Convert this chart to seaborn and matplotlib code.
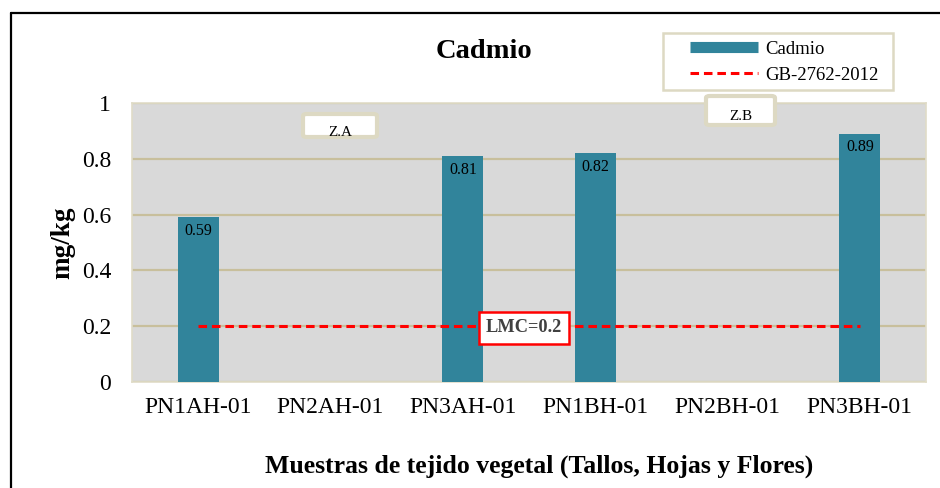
import matplotlib
matplotlib.use("Agg")
import matplotlib.pyplot as plt
import seaborn as sns
import numpy as np
import pandas as pd
from matplotlib.lines import Line2D
from matplotlib.patches import Rectangle, FancyBboxPatch

categories = ["PN1AH-01", "PN2AH-01", "PN3AH-01", "PN1BH-01", "PN2BH-01", "PN3BH-01"]
cadmio = [0.59, np.nan, 0.81, 0.82, np.nan, 0.89]
limite = [0.2, 0.2, 0.2, 0.2, 0.2, 0.2]
yticks = [0, 0.2, 0.4, 0.6, 0.8, 1.0]
ytick_labels = ["0", "0.2", "0.4", "0.6", "0.8", "1"]
legend_labels = ["Cadmio", "GB-2762-2012"]

TEAL = "#31849B"
TAN = "#C8BF9C"
RED = "#FF0000"
SERIF = ["Liberation Serif", "DejaVu Serif"]

sns.set_style("white")
plt.rcParams["font.family"] = SERIF
plt.rcParams["text.color"] = "black"
plt.rcParams["axes.labelcolor"] = "black"
plt.rcParams["xtick.color"] = "black"
plt.rcParams["ytick.color"] = "black"

W, H = 940, 488
fig = plt.figure(figsize=(W / 100, H / 100), dpi=100)
ax = fig.add_axes([132 / W, 1 - 382 / H, (926 - 132) / W, (382 - 103) / H])

df = pd.DataFrame({"cat": categories, "val": cadmio})
sns.barplot(data=df, x="cat", y="val", color=TEAL, width=0.31, saturation=1,
            ax=ax, zorder=3, edgecolor="none")

ax.plot(range(len(categories)), limite, color=RED, lw=2.2,
        dashes=(2.8, 1.6), zorder=4)

ax.set_facecolor("#D9D9D9")
ax.set_ylim(0, 1)
ax.set_xlim(-0.5, len(categories) - 0.5)
ax.set_yticks(yticks)
ax.set_yticklabels(ytick_labels)
ax.grid(axis="y", color=TAN, lw=1.6, zorder=1)
ax.set_axisbelow(True)
for s in ax.spines.values():
    s.set_visible(True)
    s.set_color("#E0DCC8")
    s.set_linewidth(1.2)
ax.tick_params(axis="both", length=0, labelsize=17, labelcolor="black")
ax.tick_params(axis="y", pad=15)
ax.tick_params(axis="x", pad=11)
ax.set_xlabel("")
ax.set_ylabel("mg/kg", fontsize=19.5, fontweight="bold", color="black")
ax.yaxis.set_label_coords(-0.072, 0.5)

# value labels
for i, v in enumerate(cadmio):
    if not np.isnan(v):
        ax.annotate(f"{v:.2f}", (i, v), xytext=(0, -4), textcoords="offset points",
                    ha="center", va="top", fontsize=11.5, color="black", zorder=5)

# title and x-label
fig.text(484 / W, 1 - 52 / H, "Cadmio", ha="center", va="center",
         fontsize=20.5, fontweight="bold", color="black")
fig.text(539 / W, 1 - 466 / H, "Muestras de tejido vegetal (Tallos, Hojas y Flores)",
         ha="center", va="center", fontsize=18.5, fontweight="bold", color="black")

# outer frame
fig.add_artist(Line2D([11 / W, 11 / W], [0, 1 - 13 / H], color="black", lw=1.6))
fig.add_artist(Line2D([11 / W, 1], [1 - 13 / H, 1 - 13 / H], color="black", lw=1.6))

# legend (drawn manually to match the offset layout)
fig.add_artist(Rectangle((663 / W, 1 - 90 / H), (893 - 663) / W, (90 - 33) / H,
                         transform=fig.transFigure, facecolor="white",
                         edgecolor="#DDD9C3", lw=1.8, zorder=10))
fig.add_artist(Line2D([690 / W, 758 / W], [1 - 47 / H] * 2, color=TEAL, lw=8,
                      solid_capstyle="butt", zorder=11))
fig.add_artist(Line2D([690 / W, 758 / W], [1 - 73 / H] * 2, color=RED, lw=2.2,
                      dashes=(2.8, 1.6), zorder=11))
fig.text(765 / W, 1 - 49 / H, legend_labels[0], ha="left", va="center",
         fontsize=13.5, zorder=12, color="black")
fig.text(765 / W, 1 - 75 / H, legend_labels[1], ha="left", va="center",
         fontsize=13.5, zorder=12, color="black")

# Z.A / Z.B boxes
def zbox(x0, y0, x1, y1, label, ty):
    r = FancyBboxPatch((x0 / W, 1 - y1 / H), (x1 - x0) / W, (y1 - y0) / H,
                       boxstyle="round,pad=0,rounding_size=0.004",
                       transform=fig.transFigure, facecolor="white",
                       edgecolor="#DDD9C3", lw=3, zorder=10)
    fig.add_artist(r)
    fig.text((x0 + x1) / 2 / W, 1 - ty / H, label, ha="center", va="center",
             fontsize=11, zorder=11, color="black")

zbox(303, 114, 377, 137, "Z.A", 133)
zbox(706, 96, 775, 125, "Z.B", 117)

# LMC label
fig.text(524 / W, 1 - 328 / H, "LMC=0.2", ha="center", va="center",
         fontsize=13.2, fontweight="bold", color="#404040", zorder=12,
         bbox=dict(boxstyle="square,pad=0.4", facecolor="white",
                   edgecolor=RED, lw=1.8))

fig.savefig("out.png", dpi=100)
